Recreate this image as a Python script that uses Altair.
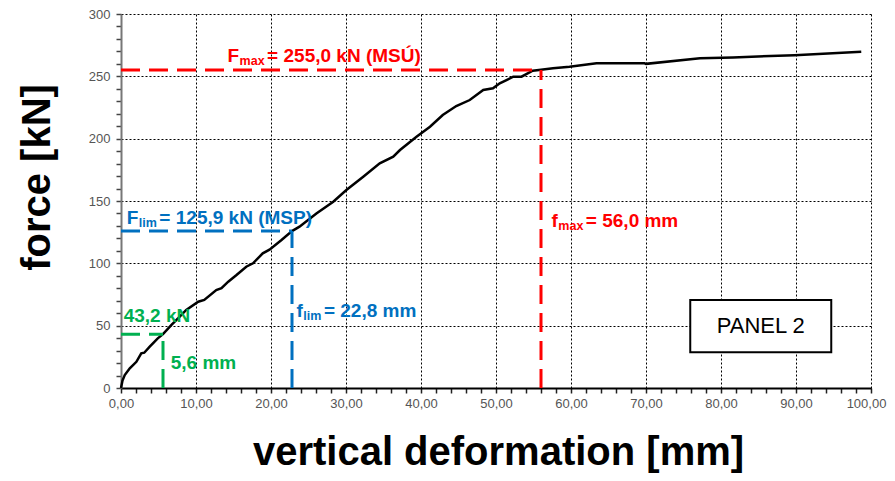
import altair as alt
import pandas as pd

# ---- data ----
deform = [0, 0.2, 0.5, 1.17, 2.05, 2.7, 3.1, 3.8, 4.9, 5.6, 6.7, 7.6, 8.7, 10.3, 11.1,
          12.7, 13.4, 14.3, 15.4, 16.7, 17.6, 18.9, 19.8, 21.4, 22.8, 23.8, 26.05, 28.3,
          30.05, 32.3, 34.5, 36.3, 37.2, 39.4, 41.2, 42.9, 44.7, 46.5, 48.3, 49.6, 50.5,
          51.4, 52.3, 53.4, 54.9, 56.0, 57.6, 59.8, 63.4, 69.8, 70.0, 77.2, 81.6, 89.8, 98.7]
force = [0, 6, 10.4, 15.8, 21, 27.8, 28.3, 33, 39.8, 43.2, 50.5, 55.9, 62.6, 69.2, 70.6,
         78.6, 80, 85.3, 90.6, 97.3, 100, 108, 111, 118.7, 125.9, 129.4, 140, 149.4,
         158.8, 169.5, 180.2, 185.5, 190.9, 201.6, 209.6, 219, 226.2, 231, 239, 240.4, 244.4,
         247, 249.7, 249.7, 254.5, 255.3, 256.4, 257.7, 260.4, 260.4, 260, 264.5, 265.2, 267, 269.8]

# limit states: (deformation, force, colour)
limit_x = [5.6, 22.8, 56.0]
limit_y = [43.2, 125.9, 255.0]
limit_col = ["#00B050", "#0070C0", "#FF0000"]

x_ticks = list(range(0, 101, 2))
y_ticks = list(range(0, 301, 10))

RED, BLUE, GREEN = "#FF0000", "#0070C0", "#00B050"
FONT = "Liberation Sans"

curve = pd.DataFrame({"x": deform, "y": force})

xsc = alt.Scale(domain=[0, 100], nice=False, zero=False)
ysc = alt.Scale(domain=[0, 300], nice=False, zero=False)

x_axis = alt.Axis(
    values=x_ticks, tickCount=500,
    labelExpr="datum.value % 10 === 0 ? replace(format(datum.value, '.2f'), '.', ',') : ''",
    title="vertical deformation [mm]", titleFontSize=40, titleFont=FONT, titleFontWeight="bold",
    titleColor="#000", titleX=377, titleY=76, titleBaseline="alphabetic", titleAlign="center",
    labelFont=FONT, labelFontSize=13, labelColor="#555", labelPadding=4,
    labelOffset={"condition": {"test": "datum.value === 100", "value": -5}, "value": 0},
    domainColor="#000", domainWidth=2, tickColor="#222", tickWidth=1.5, tickSize=5,
    gridColor="#000", gridWidth=1, gridDash=[2, 2],
    gridOpacity={"condition": {"test": "datum.value % 10 === 0", "value": 1}, "value": 0},
    labelFlush=False, labelOverlap=False,
)
y_axis = alt.Axis(
    values=y_ticks, tickCount=500,
    labelExpr="datum.value % 50 === 0 ? datum.value : ''",
    title="force [kN]", titleFontSize=40, titleFont=FONT, titleFontWeight="bold",
    titleColor="#000", titleX=-72, titleY=163, titleBaseline="alphabetic", titleAlign="center",
    titleAngle=270,
    labelFont=FONT, labelFontSize=13, labelColor="#555", labelPadding=6,
    domainColor="#777", domainWidth=2, tickColor="#444", tickWidth=1.5, tickSize=5,
    gridColor="#000", gridWidth=1, gridDash=[2, 2],
    gridOpacity={"condition": {"test": "datum.value % 50 === 0", "value": 1}, "value": 0},
    labelOverlap=False,
)

base_line = alt.Chart(curve).mark_line(color="#000", strokeWidth=2.5, interpolate="linear").encode(
    x=alt.X("x:Q", scale=xsc, axis=x_axis),
    y=alt.Y("y:Q", scale=ysc, axis=y_axis),
)

layers = [base_line]

# dashed guide lines
for lx, ly, col in zip(limit_x, limit_y, limit_col):
    h = pd.DataFrame({"x": [0], "x2": [lx], "y": [ly]})
    v = pd.DataFrame({"x": [lx], "y": [0], "y2": [ly]})
    layers.append(alt.Chart(h).mark_rule(color=col, strokeWidth=3, strokeDash=[19, 9]).encode(
        x="x:Q", x2="x2:Q", y="y:Q"))
    layers.append(alt.Chart(v).mark_rule(color=col, strokeWidth=3, strokeDash=[19, 9]).encode(
        x="x:Q", y="y:Q", y2="y2:Q"))

# annotation texts: (x, y, main, subscript, rest, colour)
ann = [
    (14.2, 261.5, "F", "max", "= 255,0 kN (MSÚ)", RED),
    (0.76, 131.5, "F", "lim", "= 125,9 kN (MSP)", BLUE),
    (57.4, 129.4, "f", "max", "= 56,0 mm", RED),
    (23.4, 57.2, "f", "lim", "= 22,8 mm", BLUE),
    (0.36, 53.2, "43,2 kN", "", "", GREEN),
    (6.63, 15.0, "5,6 mm", "", "", GREEN),
]
MAIN_SIZE, SUB_SIZE = 19, 12.5
main_w = {"F": 0.611 * MAIN_SIZE, "f": 0.333 * MAIN_SIZE}
sub_w = {"max": 2.001 * SUB_SIZE, "lim": 1.445 * SUB_SIZE}

for ax, ay, main, sub, rest, col in ann:
    df = pd.DataFrame({"x": [ax], "y": [ay]})
    layers.append(alt.Chart(df).mark_text(
        text=main, color=col, font=FONT, fontSize=MAIN_SIZE, fontWeight="bold",
        align="left", baseline="alphabetic").encode(x="x:Q", y="y:Q"))
    if sub:
        mw = main_w[main]
        layers.append(alt.Chart(df).mark_text(
            text=sub, color=col, font=FONT, fontSize=SUB_SIZE, fontWeight="bold",
            align="left", baseline="alphabetic", dx=mw + 0.5, dy=3).encode(x="x:Q", y="y:Q"))
        layers.append(alt.Chart(df).mark_text(
            text=rest, color=col, font=FONT, fontSize=MAIN_SIZE, fontWeight="bold",
            align="left", baseline="alphabetic", dx=mw + sub_w[sub] + 3).encode(x="x:Q", y="y:Q"))

# PANEL 2 box
box = pd.DataFrame({"x": [75.9], "x2": [94.7], "y": [28.6], "y2": [70.6]})
layers.append(alt.Chart(box).mark_rect(fill="#fff", stroke="#000", strokeWidth=2).encode(
    x="x:Q", x2="x2:Q", y="y:Q", y2="y2:Q"))
lbl = pd.DataFrame({"x": [85.3], "y": [49.6], "t": ["PANEL 2"]})
layers.append(alt.Chart(lbl).mark_text(
    font=FONT, fontSize=22, color="#000", align="center", baseline="middle").encode(
    x="x:Q", y="y:Q", text="t:N"))

chart = alt.layer(*layers).properties(
    width=750, height=374,
    autosize=alt.AutoSizeParams(type="none"),
    padding={"left": 113, "top": 6, "right": 16, "bottom": 85},
    background="#ffffff",
).configure_view(stroke=None)

chart.save("out.html", embed_options={"renderer": "svg", "actions": False})
